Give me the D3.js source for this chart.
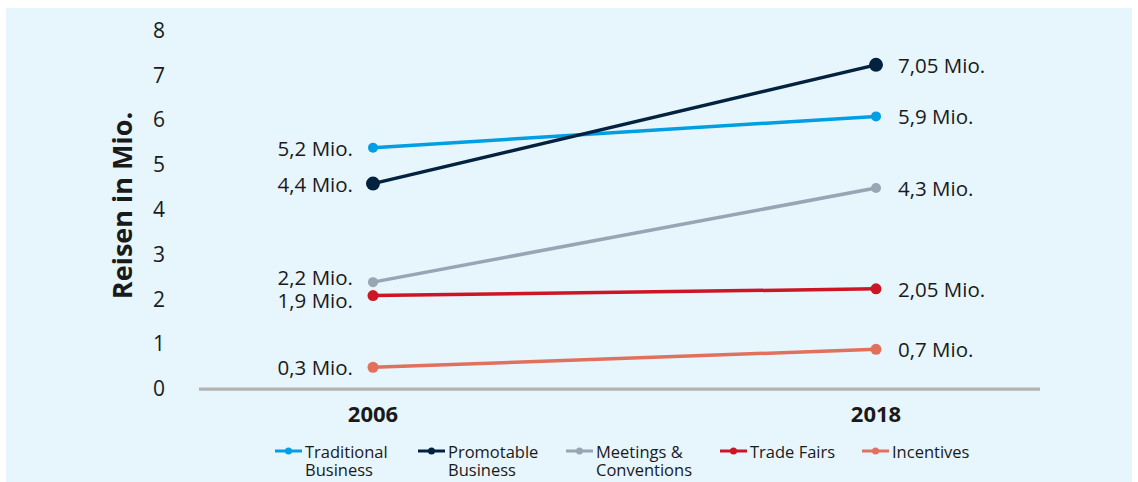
<!DOCTYPE html>
<html>
<head>
<meta charset="utf-8">
<script src="https://cdn.jsdelivr.net/npm/d3@7"></script>
<style>
  html, body { margin: 0; padding: 0; background: #ffffff; }
  svg { display: block; }
  text { font-family: "Open Sans", "Noto Sans", sans-serif; fill: #1a1a1a; }
</style>
</head>
<body>
<svg id="chart" width="1138" height="482"></svg>
<script>
// ---- data ----
const years = ["2006", "2018"];
const seriesNames = ["Traditional Business", "Promotable Business", "Meetings & Conventions", "Trade Fairs", "Incentives"];
const legendLines = [["Traditional", "Business"], ["Promotable", "Business"], ["Meetings &", "Conventions"], ["Trade Fairs"], ["Incentives"]];
const traditional = [5.2, 5.9];
const promotable = [4.4, 7.05];
const meetings = [2.2, 4.3];
const tradeFairs = [1.9, 2.05];
const incentives = [0.3, 0.7];
const valueLabels2006 = ["5,2 Mio.", "4,4 Mio.", "2,2 Mio.", "1,9 Mio.", "0,3 Mio."];
const valueLabels2018 = ["5,9 Mio.", "7,05 Mio.", "4,3 Mio.", "2,05 Mio.", "0,7 Mio."];
const yTicks = [0, 1, 2, 3, 4, 5, 6, 7, 8];
const yTitle = "Reisen in Mio.";
const colors = ["#009fe3", "#02223f", "#99a4b4", "#cc1626", "#e2705f"];
const dotRadius = [5, 7, 5, 5.5, 5.5];

const seriesValues = [traditional, promotable, meetings, tradeFairs, incentives];

// ---- layout ----
const svg = d3.select("#chart");

svg.append("rect").attr("x", 6).attr("y", 8).attr("width", 1126).attr("height", 474).attr("fill", "#e7f5fc");

const x = d3.scalePoint().domain(years).range([373, 876]);
const y = d3.scaleLinear().domain([0, 8]).range([380.7, 22.3]);
const labelShift = 7.5; // tick labels sit slightly below the value level

// y tick labels
svg.append("g").selectAll("text").data(yTicks).join("text")
  .attr("x", 159).attr("y", d => y(d) + labelShift)
  .attr("text-anchor", "middle").attr("dominant-baseline", "central")
  .style("font-size", "21px")
  .text(d => d);

// y title
svg.append("text")
  .attr("transform", `translate(121, ${(y(8) + y(0)) / 2 + 4}) rotate(-90)`)
  .attr("text-anchor", "middle").attr("dominant-baseline", "central")
  .style("font-size", "27px").style("font-weight", "700")
  .text(yTitle);

// baseline axis
svg.append("line")
  .attr("x1", 199).attr("x2", 1040)
  .attr("y1", y(0) + labelShift + 1).attr("y2", y(0) + labelShift + 1)
  .attr("stroke", "#b3b3b3").attr("stroke-width", 3.3);

// x labels
svg.append("g").selectAll("text").data(years).join("text")
  .attr("x", d => x(d)).attr("y", 413)
  .attr("text-anchor", "middle").attr("dominant-baseline", "central")
  .style("font-size", "22px").style("font-weight", "700")
  .text(d => d);

// lines
const line = d3.line().x((d, i) => x(years[i])).y(d => y(d));
const g = svg.append("g");
seriesValues.forEach((vals, s) => {
  g.append("path").datum(vals).attr("d", line)
    .attr("fill", "none").attr("stroke", colors[s]).attr("stroke-width", 3.5);
});
seriesValues.forEach((vals, s) => {
  g.selectAll(null).data(vals).join("circle")
    .attr("cx", (d, i) => x(years[i])).attr("cy", d => y(d))
    .attr("r", dotRadius[s]).attr("fill", colors[s]);
});

// value labels with simple collision avoidance
function placeLabels(vals, minGap) {
  const items = vals.map((v, i) => ({ i, pos: y(v) }));
  items.sort((a, b) => a.pos - b.pos);
  for (let k = 1; k < items.length; k++) {
    const gap = items[k].pos - items[k - 1].pos;
    if (gap < minGap) {
      const push = (minGap - gap) / 2;
      items[k - 1].pos -= push;
      items[k].pos += push;
    }
  }
  const out = [];
  items.forEach(it => out[it.i] = it.pos);
  return out;
}
const left = placeLabels(seriesValues.map(v => v[0]), 23);
const right = placeLabels(seriesValues.map(v => v[1]), 23);

svg.append("g").selectAll("text").data(valueLabels2006).join("text")
  .attr("x", x(years[0]) - 20).attr("y", (d, i) => left[i])
  .attr("text-anchor", "end").attr("dominant-baseline", "central")
  .style("font-size", "20.5px")
  .text(d => d);
svg.append("g").selectAll("text").data(valueLabels2018).join("text")
  .attr("x", x(years[1]) + 22).attr("y", (d, i) => right[i])
  .attr("text-anchor", "start").attr("dominant-baseline", "central")
  .style("font-size", "20.5px")
  .text(d => d);

// legend
const legendX = [275, 418, 566, 720, 862];
const leg = svg.append("g");
seriesNames.forEach((name, s) => {
  const lx = legendX[s], ly = 451;
  leg.append("line").attr("x1", lx).attr("x2", lx + 27).attr("y1", ly).attr("y2", ly)
    .attr("stroke", colors[s]).attr("stroke-width", 3);
  leg.append("circle").attr("cx", lx + 13.5).attr("cy", ly).attr("r", 3.5).attr("fill", colors[s]);
  legendLines[s].forEach((ln, k) => {
    leg.append("text").attr("x", lx + 30).attr("y", ly + k * 18)
      .attr("dominant-baseline", "central").style("font-size", "16.5px")
      .text(ln);
  });
});
</script>
</body>
</html>
